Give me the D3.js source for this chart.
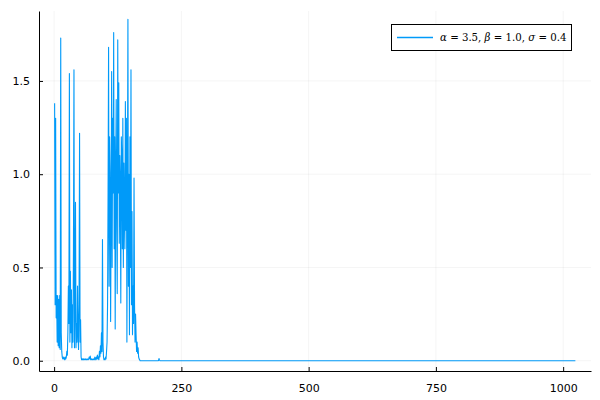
<!DOCTYPE html>
<meta charset="utf-8">
<style>

body {
  margin: 0;
  background: #fff;
}

text {
  font-family: "DejaVu Sans", sans-serif;
}

.grid line {
  stroke: #000;
  stroke-opacity: 0.08;
  stroke-width: 0.6px;
}

</style>
<svg></svg>
<script src="https://d3js.org/d3.v7.min.js"></script>
<script>

// Values for steps 1..215; the rest sit at zero.
var head = [
  1.38, 0.30, 1.30, 0.23, 0.35, 0.10, 0.35, 0.08, 0.33, 0.07,
  0.35, 0.06, 1.73, 0.15, 0.05, 0.02, 0.01, 0.01, 0.02, 0.01,
  0.005, 0.02, 0.01, 0.02, 0.05, 0.03, 0.15, 0.40, 0.20, 1.54,
  0.10, 0.48, 0.15, 0.38, 0.07, 0.30, 0.10, 0.60, 1.56, 0.07,
  0.30, 0.85, 0.07, 0.20, 0.10, 0.40, 0.15, 0.06, 0.30, 1.22,
  0.10, 0.22, 0.02, 0.005, 0.01, 0.005, 0.01, 0.005, 0.01, 0.005,
  0.005, 0.01, 0.005, 0.005, 0.01, 0.005, 0.005, 0.01, 0.02, 0.01,
  0.025, 0.005, 0.005, 0.01, 0.005, 0.005, 0.01, 0.005, 0.005, 0.02,
  0.01, 0.005, 0.02, 0.01, 0.03, 0.01, 0.02, 0.005, 0.05, 0.02,
  0.08, 0.04, 0.15, 0.05, 0.65, 0.10, 0.02, 0.005, 0.01, 0.005,
  0.02, 0.01, 0.05, 0.10, 0.30, 0.90, 1.68, 0.40, 1.20, 1.01,
  0.21, 0.80, 1.55, 0.50, 1.30, 0.90, 1.76, 0.60, 1.20, 0.17,
  1.01, 1.40, 0.70, 0.36, 1.72, 0.90, 1.49, 0.63, 1.10, 0.96,
  0.31, 1.20, 1.09, 0.60, 1.30, 0.50, 1.06, 0.80, 0.60, 1.39,
  0.70, 1.30, 0.10, 0.90, 1.83, 0.40, 1.00, 0.14, 1.20, 0.50,
  1.56, 0.30, 0.80, 0.14, 0.40, 0.20, 0.98, 0.30, 0.10, 0.25,
  0.14, 0.05, 0.10, 0.04, 0.07, 0.02, 0.01, 0.005, 0, 0,
  0, 0, 0, 0, 0, 0, 0, 0, 0, 0,
  0, 0, 0, 0, 0, 0, 0, 0, 0, 0,
  0, 0, 0, 0, 0, 0, 0, 0, 0, 0,
  0, 0, 0, 0, 0, 0.012, 0.004, 0, 0, 0,
  0, 0, 0, 0, 0
];
var steps = 1024;
var values = head.concat(new Array(steps - head.length).fill(0));

var xTicks = [0, 250, 500, 750, 1000],
    yTicks = [0, 0.5, 1.0, 1.5];

var legendLabel = ["α", " = 3.5, ", "β", " = 1.0, ", "σ", " = 0.4"];

var width = 600,
    height = 400,
    plotLeft = 39,
    plotRight = 591,
    plotTop = 11,
    plotBottom = 371;

var svg = d3.select("svg")
    .attr("width", width)
    .attr("height", height);

var x = d3.scaleLinear()
    .domain([1 - 0.03 * (steps - 1), steps + 0.03 * (steps - 1)])
    .range([plotLeft, plotRight]);

var y = d3.scaleLinear()
    .domain([-0.055, 1.875])
    .range([plotBottom, plotTop]);

// grid
var grid = svg.append("g").attr("class", "grid");

grid.selectAll(".gx")
    .data(xTicks)
  .enter().append("line")
    .attr("x1", x).attr("x2", x)
    .attr("y1", plotTop).attr("y2", plotBottom);

grid.selectAll(".gy")
    .data(yTicks)
  .enter().append("line")
    .attr("x1", plotLeft).attr("x2", plotRight)
    .attr("y1", y).attr("y2", y);

// axes, ticks pointing inward like Plots.jl
var xAxis = svg.append("g")
    .attr("transform", "translate(0," + plotBottom + ")")
    .call(d3.axisBottom(x).tickValues(xTicks).tickFormat(d3.format("d"))
        .tickSizeInner(-4).tickSizeOuter(0).tickPadding(13));

var yAxis = svg.append("g")
    .attr("transform", "translate(" + plotLeft + ",0)")
    .call(d3.axisLeft(y).tickValues(yTicks).tickFormat(d3.format(".1f"))
        .tickSizeInner(-4).tickSizeOuter(0).tickPadding(9));

[xAxis, yAxis].forEach(function(a) {
  a.select(".domain").attr("stroke", "#000").attr("stroke-width", 1);
  a.selectAll(".tick line").attr("stroke", "#000").attr("stroke-width", 1);
  a.selectAll(".tick text").attr("font-size", 11).attr("fill", "#000")
      .attr("font-family", "DejaVu Sans, sans-serif");
});

// series
var line = d3.line()
    .x(function(d, i) { return x(i + 1); })
    .y(function(d) { return y(d); });

svg.append("path")
    .datum(values)
    .attr("fill", "none")
    .attr("stroke", "#009af9")
    .attr("stroke-width", 1.1)
    .attr("stroke-linejoin", "round")
    .attr("d", line);

// legend
var legend = svg.append("g");

legend.append("rect")
    .attr("x", 391.5).attr("y", 24.5)
    .attr("width", 180).attr("height", 26)
    .attr("fill", "#fff")
    .attr("stroke", "#000")
    .attr("stroke-width", 1);

legend.append("line")
    .attr("x1", 397).attr("x2", 433)
    .attr("y1", 37.5).attr("y2", 37.5)
    .attr("stroke", "#009af9")
    .attr("stroke-width", 1.3);

var label = legend.append("text")
    .attr("x", 440)
    .attr("y", 41)
    .attr("font-size", 10.2)
    .attr("font-family", "DejaVu Serif, serif")
    .attr("fill", "#000");

label.selectAll("tspan")
    .data(legendLabel)
  .enter().append("tspan")
    .attr("font-style", function(d, i) { return i % 2 ? "normal" : "italic"; })
    .attr("font-family", "DejaVu Serif, serif")
    .style("white-space", "pre")
    .text(function(d) { return d; });

</script>
